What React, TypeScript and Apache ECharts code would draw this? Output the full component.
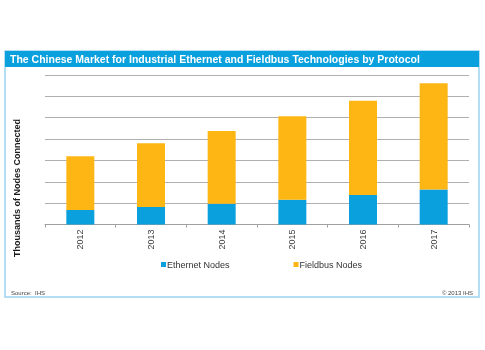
import React, { useEffect, useRef } from "react";
import * as echarts from "echarts";

const years = ["2012", "2013", "2014", "2015", "2016", "2017"];
const ethernetNodes = [0.68, 0.82, 0.97, 1.16, 1.38, 1.64];
const fieldbusNodes = [2.52, 2.99, 3.41, 3.91, 4.41, 4.97];
const titleText = "The Chinese Market for Industrial Ethernet and Fieldbus Technologies by Protocol";
const yAxisName = "Thousands of Nodes Connected";
const sourceText = "Source:  IHS";
const copyrightText = "© 2013 IHS";

const BLUE = "#0a9fdd";
const ORANGE = "#fdb614";

export default function App() {
  const ref = useRef<HTMLDivElement>(null);
  useEffect(() => {
    if (!ref.current) return;
    const chart = echarts.init(ref.current, null, { renderer: "svg" });
    chart.setOption({
      animation: false,
      graphic: [
        { type: "rect", z: 0, shape: { x: 5, y: 51, width: 474, height: 246 }, style: { fill: "#fff", stroke: "#9ad4ef", lineWidth: 1.5 } },
        { type: "rect", z: 1, shape: { x: 5, y: 51, width: 474, height: 16 }, style: { fill: BLUE } },
        { type: "text", z: 2, x: 10, y: 59, style: { text: titleText, fill: "#fff", font: "bold 10.5px Arial, 'Liberation Sans', sans-serif", verticalAlign: "middle" } },
        { type: "text", z: 2, x: 17, y: 188, rotation: Math.PI / 2, style: { text: yAxisName, fill: "#1a1a1a", font: "bold 9px Arial, 'Liberation Sans', sans-serif", align: "center", verticalAlign: "middle" } },
        { type: "text", z: 2, x: 11, y: 293, style: { text: sourceText, fill: "#444", font: "6px Arial, 'Liberation Sans', sans-serif", verticalAlign: "middle" } },
        { type: "text", z: 2, x: 473, y: 293, style: { text: copyrightText, fill: "#444", font: "6px Arial, 'Liberation Sans', sans-serif", align: "right", verticalAlign: "middle" } },
      ],
      legend: {
        left: 156,
        top: 255,
        itemWidth: 5,
        itemHeight: 5,
        itemGap: 64,
        icon: "rect",
        textStyle: { fontSize: 9, color: "#333", fontFamily: "Arial, 'Liberation Sans', sans-serif", padding: [0, 0, 0, -4] },
        data: ["Ethernet Nodes", "Fieldbus Nodes"],
      },
      grid: { left: 45, right: 16, top: 75, bottom: 125.5, containLabel: false },
      xAxis: {
        type: "category",
        data: years,
        axisLine: { lineStyle: { color: "#a0a0a0", width: 1 } },
        axisTick: { show: true, length: 3, lineStyle: { color: "#a0a0a0" } },
        axisLabel: { rotate: 90, fontSize: 9, color: "#404040", margin: 5, fontFamily: "Arial, 'Liberation Sans', sans-serif" },
      },
      yAxis: {
        type: "value",
        min: 0,
        max: 7,
        interval: 1,
        axisLabel: { show: false },
        axisLine: { show: false },
        axisTick: { show: false },
        splitLine: { lineStyle: { color: "#b0b0b0", width: 1 } },
      },
      series: [
        { name: "Ethernet Nodes", type: "bar", stack: "total", data: ethernetNodes, barWidth: 28, itemStyle: { color: BLUE } },
        { name: "Fieldbus Nodes", type: "bar", stack: "total", data: fieldbusNodes, barWidth: 28, itemStyle: { color: ORANGE } },
      ],
    });
    return () => chart.dispose();
  }, []);
  return <div ref={ref} style={{ position: "fixed", left: 0, top: 0, width: 485, height: 350 }} />;
}
